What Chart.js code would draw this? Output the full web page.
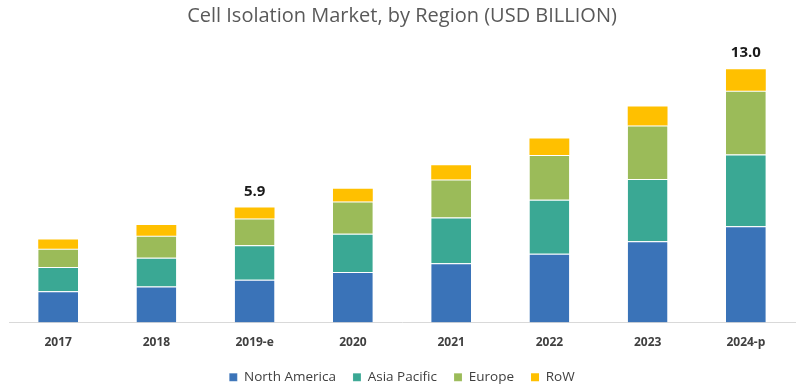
<!DOCTYPE html>
<html>
<head>
<meta charset="utf-8">
<script src="https://cdn.jsdelivr.net/npm/chart.js@4/dist/chart.umd.min.js"></script>
<style>
  html, body { margin: 0; padding: 0; background: #fff; }
  #wrap { position: relative; width: 802px; height: 391px; }
</style>
</head>
<body>
<div id="wrap"><canvas id="regionChart"></canvas></div>
<script>
// Cell isolation market by region, USD billion
const years = ['2017', '2018', '2019-e', '2020', '2021', '2022', '2023', '2024-p'];
const northAmerica = [1.61, 1.85, 2.19, 2.59, 3.04, 3.53, 4.17, 4.94];
const asiaPacific  = [1.24, 1.48, 1.78, 1.96, 2.35, 2.77, 3.20, 3.69];
const europe       = [0.94, 1.12, 1.37, 1.66, 1.95, 2.30, 2.74, 3.27];
const row          = [0.47, 0.56, 0.56, 0.66, 0.73, 0.85, 0.98, 1.10];
const totalLabels  = { 2: '5.9', 7: '13.0' };

const seriesNames = ['North America', 'Asia Pacific', 'Europe', 'RoW'];
const seriesData = [northAmerica, asiaPacific, europe, row];
const seriesColors = ['#3a73b8', '#3aa894', '#9bbb59', '#ffc000'];

const FONT = "'Open Sans', 'Liberation Sans', sans-serif";

// writes the highlighted totals above two of the bars
const totalsPlugin = {
  id: 'totals',
  afterDatasetsDraw(chart) {
    const { ctx } = chart;
    const last = chart.getDatasetMeta(chart.data.datasets.length - 1);
    ctx.save();
    ctx.font = "bold 15px " + FONT;
    ctx.fillStyle = '#1a1a1a';
    ctx.textAlign = 'center';
    ctx.textBaseline = 'alphabetic';
    Object.keys(totalLabels).forEach(i => {
      const bar = last.data[i];
      ctx.fillText(totalLabels[i], bar.x, bar.y - 12);
    });
    ctx.restore();
  }
};

new Chart(document.getElementById('regionChart'), {
  type: 'bar',
  data: {
    labels: years,
    datasets: seriesNames.map((name, k) => ({
      label: name,
      data: seriesData[k],
      backgroundColor: seriesColors[k],
      borderColor: 'rgba(255,255,255,0.55)',
      borderWidth: { top: k === 3 ? 0 : 1, left: 0, right: 0, bottom: 0 },
      borderSkipped: false,
      categoryPercentage: 1,
      barPercentage: 0.405
    }))
  },
  plugins: [totalsPlugin],
  options: {
    responsive: true,
    maintainAspectRatio: false,
    animation: false,
    layout: { padding: { left: 9, right: 7, top: 0, bottom: -3 } },
    plugins: {
      title: {
        display: true,
        text: 'Cell Isolation Market, by Region (USD BILLION)',
        color: '#595959',
        font: { family: FONT, size: 20, weight: 'normal' },
        padding: { top: 4, bottom: 13 }
      },
      legend: {
        position: 'bottom',
        labels: {
          color: '#404040',
          font: { family: FONT, size: 13.5 },
          boxWidth: 8,
          boxHeight: 8,
          padding: 17
        }
      },
      tooltip: { enabled: false }
    },
    scales: {
      x: {
        stacked: true,
        grid: { display: false, drawTicks: false },
        border: { color: '#d9d9d9', width: 1 },
        ticks: {
          color: '#404040',
          padding: 13,
          font: { family: FONT, size: 12, weight: 'bold' }
        },
        afterFit(scale) { scale.height = 31; }
      },
      y: {
        stacked: true,
        display: false,
        min: 0,
        max: 14.45
      }
    }
  }
});
</script>
</body>
</html>
